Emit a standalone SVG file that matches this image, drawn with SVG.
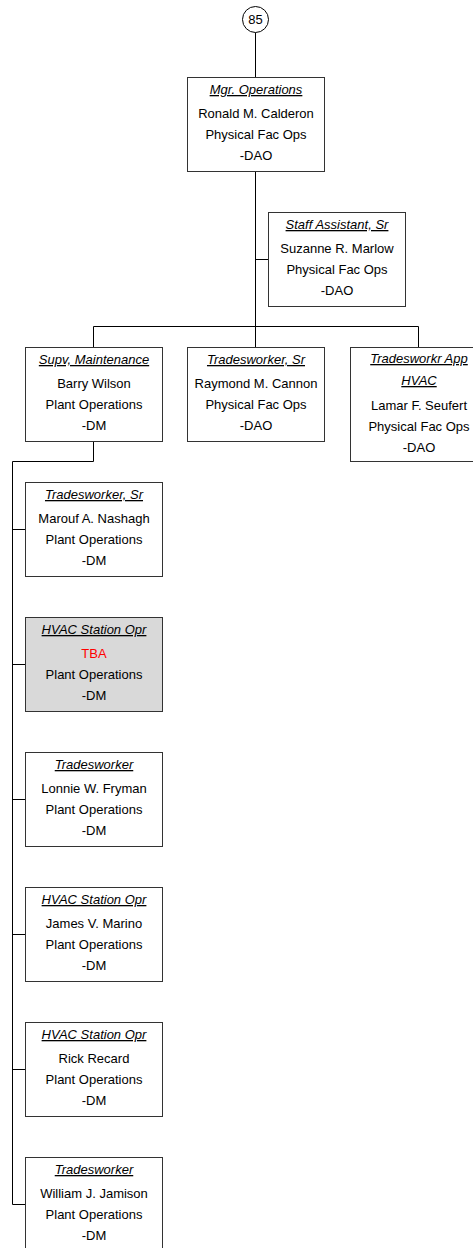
<svg xmlns="http://www.w3.org/2000/svg" width="473" height="1248" viewBox="0 0 473 1248">
<style>
.bx{fill:#ffffff;stroke:#333333;stroke-width:1}
.tba{fill:#d9d9d9;stroke:#333333;stroke-width:1}
.ln{fill:none;stroke:#000000;stroke-width:1}
text{font-family:"Liberation Sans",Arial,sans-serif;font-size:13px;fill:#000000;text-anchor:middle}
.t{font-style:italic;text-decoration:underline}
.red{fill:#ff0000}
</style>
<rect width="473" height="1248" fill="#ffffff"/>
<g id="connectors">
<path class="ln" d="M255.5 32.5V77.5"/>
<path class="ln" d="M255.5 171.5V326.5"/>
<path class="ln" d="M255.5 259.5H268.5"/>
<path class="ln" d="M93.5 326.5H418.5"/>
<path class="ln" d="M93.5 326.5V347.5M255.5 326.5V347.5M418.5 326.5V347.5"/>
<path class="ln" d="M93.5 441.5V461.5H12.5V1204.5"/>
<path class="ln" d="M12.5 529.5H25.5M12.5 664.5H25.5M12.5 799.5H25.5M12.5 934.5H25.5M12.5 1069.5H25.5M12.5 1204.5H25.5"/>
</g>
<g id="n85">
<circle cx="255.5" cy="19.5" r="13" fill="#ffffff" stroke="#000000" stroke-width="1"/>
<text x="255.5" y="24">85</text>
</g>
<g id="mgr">
<rect class="bx" x="187.5" y="77.5" width="137" height="94"/>
<text class="t" x="256" y="94">Mgr. Operations</text>
<text x="256" y="118">Ronald M. Calderon</text>
<text x="256" y="139">Physical Fac Ops</text>
<text x="256" y="160">-DAO</text>
</g>
<g id="staff">
<rect class="bx" x="268.5" y="212.5" width="137" height="94"/>
<text class="t" x="337" y="229">Staff Assistant, Sr</text>
<text x="337" y="253">Suzanne R. Marlow</text>
<text x="337" y="274">Physical Fac Ops</text>
<text x="337" y="295">-DAO</text>
</g>
<g id="supv">
<rect class="bx" x="25.5" y="347.5" width="137" height="94"/>
<text class="t" x="94" y="364">Supv, Maintenance</text>
<text x="94" y="388">Barry Wilson</text>
<text x="94" y="409">Plant Operations</text>
<text x="94" y="430">-DM</text>
</g>
<g id="twsr1">
<rect class="bx" x="187.5" y="347.5" width="137" height="94"/>
<text class="t" x="256" y="364">Tradesworker, Sr</text>
<text x="256" y="388">Raymond M. Cannon</text>
<text x="256" y="409">Physical Fac Ops</text>
<text x="256" y="430">-DAO</text>
</g>
<g id="app">
<rect class="bx" x="350.5" y="347.5" width="137" height="114"/>
<text class="t" x="419" y="363">Tradesworkr App</text>
<text class="t" x="419" y="385">HVAC</text>
<text x="419" y="410">Lamar F. Seufert</text>
<text x="419" y="431">Physical Fac Ops</text>
<text x="419" y="452">-DAO</text>
</g>
<g id="marouf">
<rect class="bx" x="25.5" y="482.5" width="137" height="94"/>
<text class="t" x="94" y="499">Tradesworker, Sr</text>
<text x="94" y="523">Marouf A. Nashagh</text>
<text x="94" y="544">Plant Operations</text>
<text x="94" y="565">-DM</text>
</g>
<g id="tba">
<rect class="tba" x="25.5" y="617.5" width="137" height="94"/>
<text class="t" x="94" y="634">HVAC Station Opr</text>
<text class="red" x="94" y="658">TBA</text>
<text x="94" y="679">Plant Operations</text>
<text x="94" y="700">-DM</text>
</g>
<g id="lonnie">
<rect class="bx" x="25.5" y="752.5" width="137" height="94"/>
<text class="t" x="94" y="769">Tradesworker</text>
<text x="94" y="793">Lonnie W. Fryman</text>
<text x="94" y="814">Plant Operations</text>
<text x="94" y="835">-DM</text>
</g>
<g id="james">
<rect class="bx" x="25.5" y="887.5" width="137" height="94"/>
<text class="t" x="94" y="904">HVAC Station Opr</text>
<text x="94" y="928">James V. Marino</text>
<text x="94" y="949">Plant Operations</text>
<text x="94" y="970">-DM</text>
</g>
<g id="rick">
<rect class="bx" x="25.5" y="1022.5" width="137" height="94"/>
<text class="t" x="94" y="1039">HVAC Station Opr</text>
<text x="94" y="1063">Rick Recard</text>
<text x="94" y="1084">Plant Operations</text>
<text x="94" y="1105">-DM</text>
</g>
<g id="william">
<rect class="bx" x="25.5" y="1157.5" width="137" height="94"/>
<text class="t" x="94" y="1174">Tradesworker</text>
<text x="94" y="1198">William J. Jamison</text>
<text x="94" y="1219">Plant Operations</text>
<text x="94" y="1240">-DM</text>
</g>
</svg>
